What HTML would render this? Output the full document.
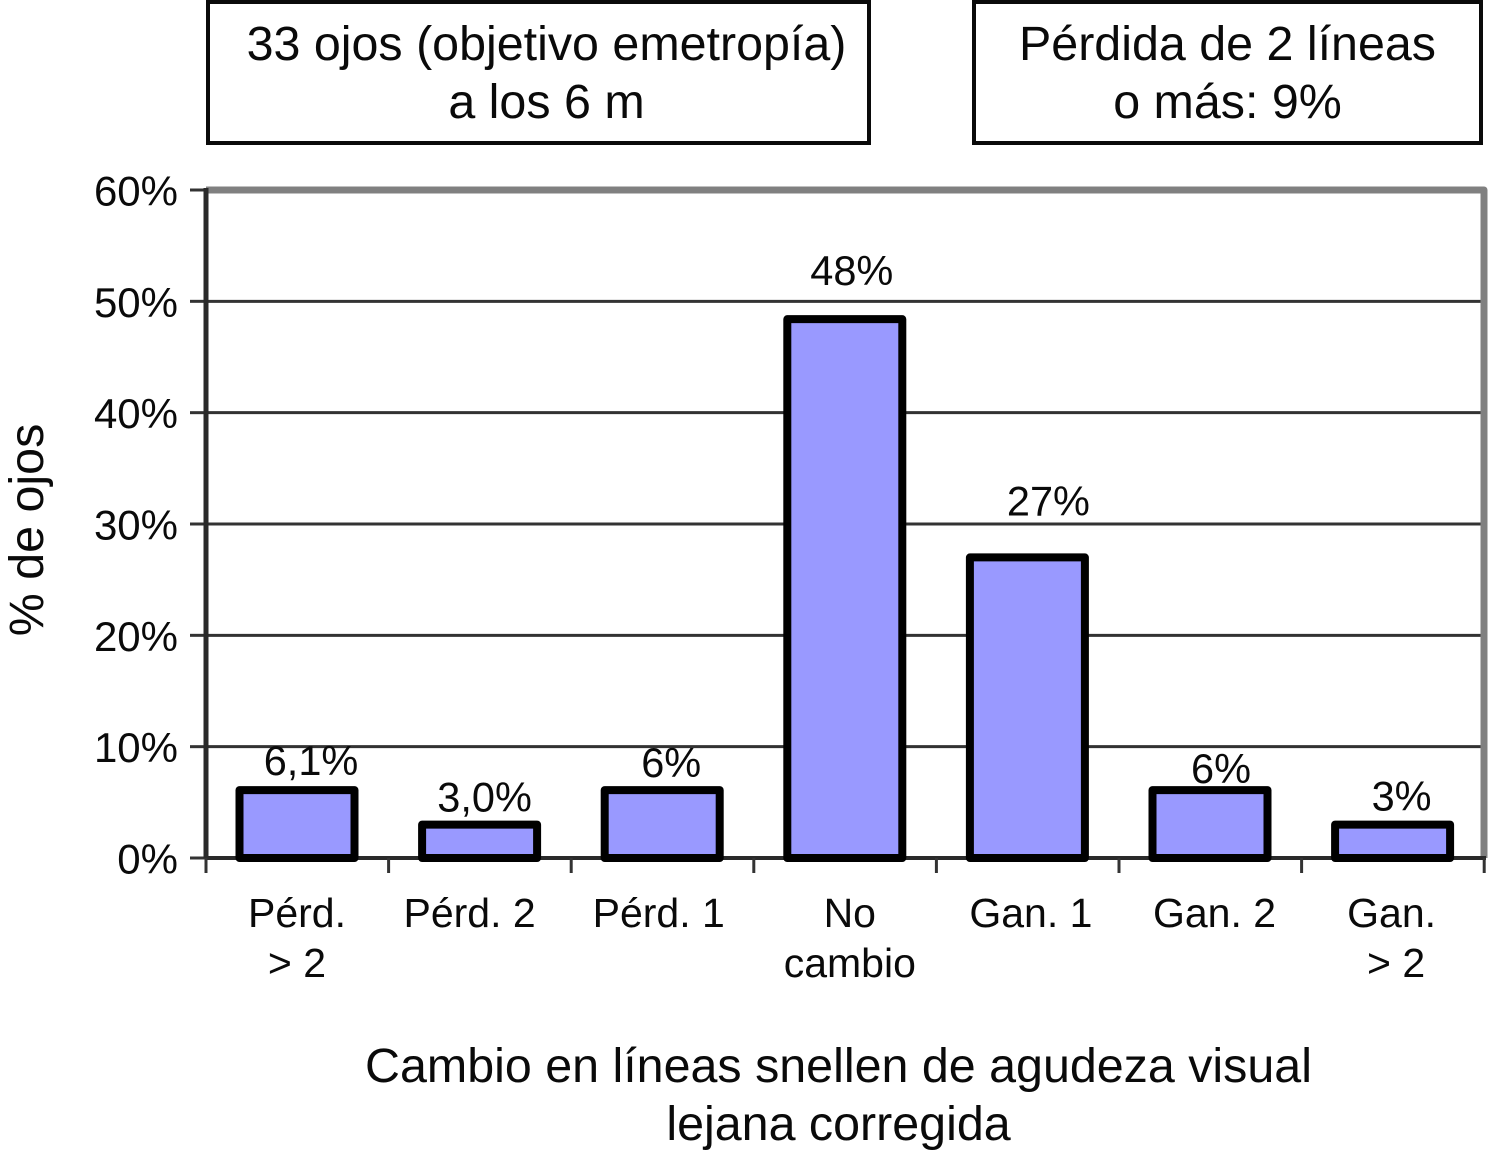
<!DOCTYPE html>
<html lang="es">
<head>
<meta charset="utf-8">
<title>Cambio en líneas snellen de agudeza visual</title>
<style>
html,body{margin:0;padding:0;background:#fff;}
#chart{display:block;width:1490px;height:1151px;}
text{font-family:"Liberation Sans",sans-serif;fill:#0a0a0a;}
</style>
</head>
<body>
<svg id="chart" xmlns="http://www.w3.org/2000/svg" width="1490" height="1151" viewBox="0 0 1490 1151">
  <g>
    <rect x="208" y="2" width="661" height="141" fill="#fff" stroke="#0a0a0a" stroke-width="4"/>
    <text x="546.5" y="60" font-size="48.4" text-anchor="middle">33 ojos (objetivo emetropía)</text>
    <text x="546.5" y="118" font-size="48.4" text-anchor="middle">a los 6 m</text>
  </g>
  <g>
    <rect x="974" y="2" width="507" height="141" fill="#fff" stroke="#0a0a0a" stroke-width="4"/>
    <text x="1227.5" y="60" font-size="48.4" text-anchor="middle">Pérdida de 2 líneas</text>
    <text x="1227.5" y="118" font-size="48.4" text-anchor="middle">o más: 9%</text>
  </g>
  <g id="plot"></g>
  <text transform="translate(43,530) rotate(-90)" font-size="48.4" text-anchor="middle">% de ojos</text>
  <text x="838.5" y="1082" font-size="48.4" text-anchor="middle">Cambio en líneas snellen de agudeza visual</text>
  <text x="838.5" y="1140" font-size="48.4" text-anchor="middle">lejana corregida</text>
</svg>
<script>
const categories = [["Pérd.", "> 2"], ["Pérd. 2"], ["Pérd. 1"], ["No", "cambio"], ["Gan. 1"], ["Gan. 2"], ["Gan.", "> 2"]];
const seriesValues = [6.1, 3.0, 6.1, 48.4, 27.0, 6.1, 3.0];
const valueLabels = ["6,1%", "3,0%", "6%", "48%", "27%", "6%", "3%"];
const yTicks = [0, 10, 20, 30, 40, 50, 60];

const labelShiftX = [14, 5, 9, 7, 21, 11, 9];
const labelGapY = [15, 13, 13, 34, 42, 7, 14];
const categoryShiftX = [[0, 0], [-10], [-3.5], [5, 5], [3.5], [4.5], [-1, 3.5]];

const NS = 'http://www.w3.org/2000/svg';
const plot = document.getElementById('plot');
const left = 206, right = 1484, top0 = 190, base = 858;
const step = 182.6;
const firstCenter = 297;
const barWidth = 115;

function yScale(v) { return base - (v / 60) * (base - top0); }
function xCenter(i) { return firstCenter + i * step; }
function xEdge(i) { return left + i * step; }

function add(tag, attrs, text) {
  const el = document.createElementNS(NS, tag);
  for (const k in attrs) el.setAttribute(k, attrs[k]);
  if (text !== undefined) el.textContent = text;
  plot.appendChild(el);
  return el;
}

// Gridlines and y ticks
yTicks.forEach(function (t) {
  const y = yScale(t);
  if (t !== 0 && t !== 60) {
    const grid = add('line', { x1: left, x2: right, y1: y, y2: y, stroke: '#333', 'stroke-width': 3 });
    
    
  }
  const tick = add('line', { x1: 190, x2: left, y1: y, y2: y, stroke: '#333', 'stroke-width': 3 });
  
  
  const label = add('text', { x: 178, y: y + 15.5, 'font-size': 42, 'text-anchor': 'end' }, t + '%');
  
  
});

// Plot border
const border = add('path', { d: 'M' + left + ' ' + top0 + 'H' + right + 'V' + base, fill: 'none', stroke: '#808080', 'stroke-width': 7, 'stroke-linejoin': 'round' });



// Axes
const yAxis = add('line', { x1: left, x2: left, y1: top0 - 2, y2: base, stroke: '#2a2a2a', 'stroke-width': 5 });


const xAxis = add('line', { x1: left, x2: right + 2, y1: base, y2: base, stroke: '#2a2a2a', 'stroke-width': 4 });



// X ticks
for (let i = 0; i <= categories.length; i++) {
  const tick = add('line', { x1: xEdge(i), x2: xEdge(i), y1: base, y2: 873, stroke: '#333', 'stroke-width': 3 });
  
  
}

// Bars, value labels and category labels
seriesValues.forEach(function (v, i) {
  const y = yScale(v);
  const bar = add('rect', { x: xCenter(i) - barWidth / 2, y: y, width: barWidth, height: base - y, fill: '#9999ff', stroke: '#000', 'stroke-width': 8, 'stroke-linejoin': 'round' });
  
  
  const value = add('text', { x: xCenter(i) + labelShiftX[i], y: y - labelGapY[i], 'font-size': 41.5, 'text-anchor': 'middle' }, valueLabels[i]);
  
  
  categories[i].forEach(function (line, j) {
    const cat = add('text', { x: xCenter(i) + categoryShiftX[i][j], y: 927 + j * 50, 'font-size': 41, 'text-anchor': 'middle' }, line);
    
    
  });
});
</script>
</body>
</html>
